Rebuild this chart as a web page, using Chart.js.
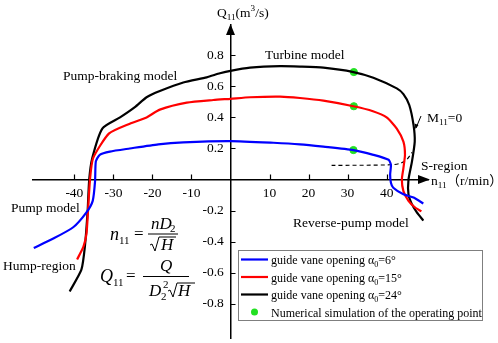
<!DOCTYPE html>
<html lang="en">
<head>
    <meta charset="UTF-8">
    <title>Pump-turbine characteristic curves</title>
    <script src="https://cdn.jsdelivr.net/npm/chart.js"></script>
    <style>
        body { margin: 0; background: #fff; }
        #chart { display: block; }
    </style>
</head>
<body>
    <canvas id="chart" width="498" height="343"></canvas>

    <script>
        // unit speed n11 (r/min) and unit flow Q11 (m3/s)
        const blueN11  = [-50.4, -45.4, -40.3, -36.9, -35.3, -34.7, -34.5, -33.5, -30.9, -25.8, -18.5, -12.1, 0, 11, 17.8, 23.8, 31.5, 36.6, 40.5, 41.1, 40.9, 41.1, 41.7, 44.3, 46.9, 49.4];
        const blueQ11  = [-0.44, -0.38, -0.307, -0.211, -0.137, -0.01, 0.117, 0.159, 0.18, 0.2, 0.227, 0.24, 0.248, 0.237, 0.227, 0.212, 0.19, 0.159, 0.127, 0.095, 0.032, -0.02, -0.053, -0.095, -0.116, -0.154];

        const redN11   = [-39.3, -37.7, -36.9, -36.5, -36.0, -35.2, -31.1, -25.8, -21.5, -18.1, -11.2, -4.4, 0, 5, 12.7, 17.8, 23.8, 31.5, 36.5, 40, 42.6, 44.3, 44.7, 44.3, 43.9, 44.3, 45.6, 47.3, 48.9];
        const redQ11   = [-0.514, -0.434, -0.35, -0.2, 0, 0.138, 0.297, 0.36, 0.40, 0.45, 0.495, 0.512, 0.52, 0.53, 0.534, 0.525, 0.508, 0.472, 0.44, 0.40, 0.328, 0.244, 0.159, 0.074, 0, -0.074, -0.137, -0.18, -0.205];

        const blackN11 = [-41.2, -38.2, -37.3, -36.6, -36.2, -35.4, -32.8, -28.3, -24.5, -21.5, -18.1, -12.1, -6.1, -2.7, 0, 5, 12.7, 17.8, 23.8, 31.5, 36.6, 42.6, 44.3, 45.8, 46.9, 47.2, 46.5, 45.6, 45.6, 46.5, 47.7, 49.4];
        const blackQ11 = [-0.72, -0.58, -0.43, -0.2, 0, 0.14, 0.33, 0.40, 0.466, 0.53, 0.57, 0.625, 0.658, 0.684, 0.70, 0.72, 0.73, 0.727, 0.72, 0.692, 0.656, 0.587, 0.55, 0.48, 0.35, 0.244, 0.117, 0.0, -0.095, -0.16, -0.21, -0.264];

        const simN11   = [31.6, 31.6, 31.5];
        const simQ11   = [0.692, 0.472, 0.19];

        const m11N11   = [25.9, 40.9, 43.5, 45.2, 46.5];
        const m11Q11   = [0.091, 0.095, 0.105, 0.13, 0.175];

        const xTicks = [-40, -30, -20, -10, 10, 20, 30, 40];
        const yTicks = [-0.8, -0.6, -0.4, -0.2, 0.2, 0.4, 0.6, 0.8];

        const legendLabels = [
            ["guide vane opening ", "α", ["0", "sub"], "=6°"],
            ["guide vane opening ", "α", ["0", "sub"], "=15°"],
            ["guide vane opening ", "α", ["0", "sub"], "=24°"],
            ["Numerical simulation of the operating point"]
        ];

        const SERIF = '"Liberation Serif", "Times New Roman", "Noto Sans CJK SC", serif';
        const GREEN = '#22e022';

        function pts(xs, ys) {
            return xs.map((x, i) => ({ x: x, y: ys[i] }));
        }

        // draws text made of normal / subscript / superscript pieces, returns the end x
        function richText(ctx, x, y, parts, size, italic) {
            parts.forEach(p => {
                let txt = p, kind = "n";
                if (Array.isArray(p)) { txt = p[0]; kind = p[1]; }
                let s = size, dy = 0;
                if (kind === "sub") { s = size * 0.68; dy = size * 0.25; }
                if (kind === "sup") { s = size * 0.68; dy = -size * 0.42; }
                ctx.font = (italic ? "italic " : "") + s + "px " + SERIF;
                ctx.fillText(txt, x, y + dy);
                x += ctx.measureText(txt).width;
            });
            return x;
        }

        function radical(ctx, x, y, w) {
            // x,y: baseline start; w: width of the over bar
            ctx.beginPath();
            ctx.moveTo(x, y - 5);
            ctx.lineTo(x + 2, y - 6);
            ctx.lineTo(x + 5, y + 1);
            ctx.lineTo(x + 9, y - 13);
            ctx.lineTo(x + 9 + w, y - 13);
            ctx.lineWidth = 1;
            ctx.stroke();
        }

        const decorations = {
            id: "decorations",
            afterDraw(chart) {
                const ctx = chart.ctx;
                const xs = chart.scales.x, ys = chart.scales.y;
                const x0 = xs.getPixelForValue(0), y0 = ys.getPixelForValue(0);
                ctx.save();
                ctx.fillStyle = "#000";
                ctx.strokeStyle = "#000";

                // inward tick marks
                ctx.lineWidth = 1.2;
                ctx.beginPath();
                xTicks.forEach(v => {
                    const px = Math.round(xs.getPixelForValue(v)) + 0.5;
                    ctx.moveTo(px, y0); ctx.lineTo(px, y0 - 5);
                });
                yTicks.forEach(v => {
                    const py = Math.round(ys.getPixelForValue(v)) + 0.5;
                    ctx.moveTo(x0, py); ctx.lineTo(x0 + 5, py);
                });
                ctx.stroke();

                // arrow heads
                const ca = chart.chartArea;
                ctx.beginPath();
                ctx.moveTo(ca.right + 2, y0);
                ctx.lineTo(ca.right - 10, y0 - 4.5);
                ctx.lineTo(ca.right - 10, y0 + 4.5);
                ctx.closePath();
                ctx.fill();
                ctx.beginPath();
                ctx.moveTo(x0, ca.top - 1);
                ctx.lineTo(x0 - 4.5, ca.top + 10);
                ctx.lineTo(x0 + 4.5, ca.top + 10);
                ctx.closePath();
                ctx.fill();

                // small pointer from M11=0 to the curve
                ctx.lineWidth = 1;
                ctx.beginPath();
                ctx.moveTo(421, 116);
                ctx.lineTo(416, 128);
                ctx.stroke();
                ctx.beginPath();
                ctx.moveTo(415.5, 129);
                ctx.lineTo(414.5, 123.5);
                ctx.lineTo(418.5, 125);
                ctx.closePath();
                ctx.fill();

                // annotations
                ctx.textBaseline = "alphabetic";
                ctx.textAlign = "left";
                const fs = 13.5;
                richText(ctx, 217, 17, ["Q", ["11", "sub"], "(m", ["3", "sup"], "/s)"], fs);
                richText(ctx, 265, 59, ["Turbine model"], fs);
                richText(ctx, 63, 80, ["Pump-braking model"], fs);
                richText(ctx, 427, 122, ["M", ["11", "sub"], "=0"], fs);
                richText(ctx, 421, 170, ["S-region"], fs);
                richText(ctx, 431, 185, ["n", ["11", "sub"], "（r/min）"], fs);
                richText(ctx, 11, 212, ["Pump model"], fs);
                richText(ctx, 3, 270, ["Hump-region"], fs);
                richText(ctx, 293, 227, ["Reverse-pump model"], fs);

                // formulas
                richText(ctx, 110, 240, ["n"], 18, true);
                richText(ctx, 119, 244, ["11"], 11);
                richText(ctx, 134, 239, ["="], 17);
                ctx.fillRect(148, 233.5, 30, 1);
                richText(ctx, 151, 229, ["nD"], 17, true);
                richText(ctx, 170, 232, ["2"], 11);
                radical(ctx, 150, 250, 17);
                richText(ctx, 161, 250, ["H"], 17, true);

                richText(ctx, 100, 282, ["Q"], 18, true);
                richText(ctx, 113, 286, ["11"], 11);
                richText(ctx, 126, 281, ["="], 17);
                ctx.fillRect(143, 276, 46, 1);
                richText(ctx, 160, 271, ["Q"], 17, true);
                richText(ctx, 149, 296, ["D"], 17, true);
                richText(ctx, 161, 300, ["2"], 11);
                richText(ctx, 163, 288, ["2"], 11);
                radical(ctx, 168, 296, 18);
                richText(ctx, 178, 296, ["H"], 17, true);

                // legend box
                ctx.lineWidth = 1;
                ctx.strokeStyle = "#7f7f7f";
                ctx.strokeRect(238.5, 250.5, 244, 70);
                const rowY = [259.5, 277, 294.5, 312];
                const colors = ["#0000ff", "#ff0000", "#000000"];
                legendLabels.forEach((lab, i) => {
                    if (i < 3) {
                        ctx.strokeStyle = colors[i];
                        ctx.lineWidth = 2.2;
                        ctx.beginPath();
                        ctx.moveTo(241, rowY[i]);
                        ctx.lineTo(268, rowY[i]);
                        ctx.stroke();
                    } else {
                        ctx.fillStyle = GREEN;
                        ctx.beginPath();
                        ctx.arc(254.5, rowY[i], 3.5, 0, Math.PI * 2);
                        ctx.fill();
                    }
                    ctx.fillStyle = "#000";
                    richText(ctx, 271, rowY[i] + 4.5, lab, 12);
                });
                ctx.restore();
            }
        };

        const tickFont = { family: SERIF, size: 13.5 };
        // keep the axes' label padding from shrinking the plot area
        const noPad = s => { s.paddingTop = 0; s.paddingBottom = 0; s.paddingLeft = 0; s.paddingRight = 0; };

        new Chart(document.getElementById("chart"), {
            type: "scatter",
            data: {
                datasets: [
                    { label: "a0=6", data: pts(blueN11, blueQ11), showLine: true, borderColor: "#0000ff", borderWidth: 2.2, pointRadius: 0, tension: 0.2 },
                    { label: "a0=15", data: pts(redN11, redQ11), showLine: true, borderColor: "#ff0000", borderWidth: 2.2, pointRadius: 0, tension: 0.2 },
                    { label: "a0=24", data: pts(blackN11, blackQ11), showLine: true, borderColor: "#000000", borderWidth: 2.2, pointRadius: 0, tension: 0.2 },
                    { label: "M11=0", data: pts(m11N11, m11Q11), showLine: true, borderColor: "#000000", borderWidth: 1.1, borderDash: [4, 3], pointRadius: 0, tension: 0.3 },
                    { label: "simulation", data: pts(simN11, simQ11), showLine: false, backgroundColor: GREEN, borderColor: GREEN, pointRadius: 3.6 }
                ]
            },
            options: {
                responsive: false,
                animation: false,
                layout: { padding: { left: 33, right: 70, top: 25, bottom: 1 } },
                plugins: { legend: { display: false }, tooltip: { enabled: false } },
                scales: {
                    x: {
                        type: "linear",
                        min: -50.6, max: 50.6,
                        position: { y: 0 },
                        afterBuildTicks: s => { s.ticks = xTicks.map(v => ({ value: v })); },
                        afterFit: noPad,
                        grid: { display: false, drawTicks: false },
                        border: { color: "#000", width: 1.5 },
                        ticks: { font: tickFont, color: "#000", padding: 6, maxRotation: 0, callback: v => String(v) }
                    },
                    y: {
                        type: "linear",
                        min: -1.02, max: 0.995,
                        position: { x: 0 },
                        afterBuildTicks: s => { s.ticks = yTicks.map(v => ({ value: v })); },
                        afterFit: noPad,
                        grid: { display: false, drawTicks: false },
                        border: { color: "#000", width: 1.5 },
                        // en space keeps the right-aligned label clear of the axis
                        ticks: { font: tickFont, color: "#000", padding: 7, callback: v => v.toFixed(1) + "\u2002" }
                    }
                }
            },
            plugins: [decorations]
        });
    </script>
</body>
</html>
